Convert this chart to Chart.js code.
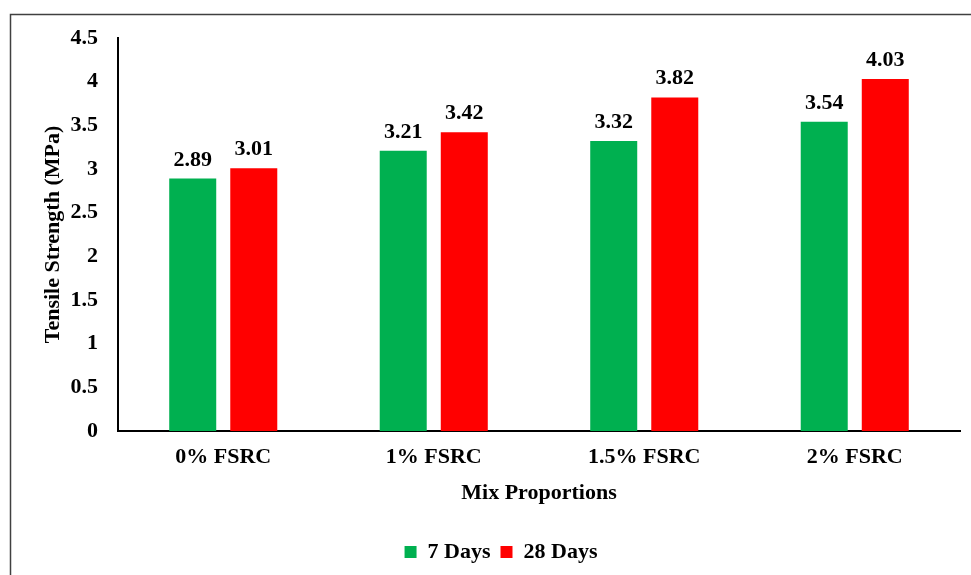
<!DOCTYPE html>
<html>
<head>
<meta charset="utf-8">
<title>Tensile Strength</title>
<script src="https://cdn.jsdelivr.net/npm/chart.js@4/dist/chart.umd.min.js"></script>
<style>
  html, body { margin: 0; padding: 0; background: #fff; overflow: hidden; }
  #wrap { position: relative; width: 971px; height: 575px; }
</style>
</head>
<body>
<div id="wrap"><canvas id="c" width="971" height="575"></canvas></div>
<script>
// Mix proportions and split tensile strength results (MPa)
const categories = ['0% FSRC', '1% FSRC', '1.5% FSRC', '2% FSRC'];
const days7 = [2.89, 3.21, 3.32, 3.54];
const days28 = [3.01, 3.42, 3.82, 4.03];
const seriesNames = ['7 Days', '28 Days'];
const yTicks = [0, 0.5, 1, 1.5, 2, 2.5, 3, 3.5, 4, 4.5];

const FONT = '"Liberation Serif", "Times New Roman", serif';
const FS = 22;

// frame around the figure
const framePlugin = {
  id: 'frame',
  beforeDraw(chart) {
    const ctx = chart.ctx;
    ctx.save();
    ctx.fillStyle = '#fff';
    ctx.fillRect(0, 0, chart.width, chart.height);
    ctx.strokeStyle = '#404040';
    ctx.lineWidth = 1.5;
    ctx.strokeRect(10.5, 14.5, 2000, 2000);
    ctx.restore();
  }
};

// nudge the legend so it sits a little right of the canvas centre
const legendShift = {
  id: 'legendShift',
  afterLayout(chart) {
    if (chart.legend) {
      chart.legend.left += 21;
      chart.legend.right += 21;
    }
  }
};

// value labels above each bar
const valueLabels = {
  id: 'valueLabels',
  afterDatasetsDraw(chart) {
    const ctx = chart.ctx;
    ctx.save();
    ctx.font = 'bold ' + FS + 'px ' + FONT;
    ctx.fillStyle = '#000';
    ctx.textAlign = 'center';
    ctx.textBaseline = 'alphabetic';
    chart.data.datasets.forEach((ds, i) => {
      chart.getDatasetMeta(i).data.forEach((el, j) => {
        ctx.fillText(ds.data[j].toFixed(2), el.x, el.y - 13);
      });
    });
    ctx.restore();
  }
};

new Chart(document.getElementById('c'), {
  type: 'bar',
  data: {
    labels: categories,
    datasets: [
      { label: seriesNames[0], data: days7, backgroundColor: '#00B050' },
      { label: seriesNames[1], data: days28, backgroundColor: '#FF0000' }
    ]
  },
  options: {
    responsive: false,
    animation: false,
    devicePixelRatio: 1,
    categoryPercentage: 0.58,
    barPercentage: 0.77,
    layout: { padding: { top: 38, right: 11, bottom: 2, left: 0 } },
    plugins: {
      tooltip: { enabled: false },
      legend: {
        position: 'bottom',
        labels: {
          boxWidth: 12,
          boxHeight: 12,
          padding: 10,
          color: '#000',
          font: { family: FONT, size: FS, weight: 'bold' }
        }
      }
    },
    scales: {
      x: {
        grid: { display: false, drawTicks: false },
        border: { display: true, color: '#000', width: 2 },
        ticks: {
          color: '#000',
          padding: 13,
          maxRotation: 0,
          font: { family: FONT, size: FS, weight: 'bold' }
        },
        title: {
          display: true,
          text: 'Mix Proportions',
          color: '#000',
          padding: { top: 0, bottom: 24 },
          font: { family: FONT, size: FS, weight: 'bold' }
        },
        afterFit(scale) { scale.height = 100; }
      },
      y: {
        min: 0,
        max: 4.5,
        afterBuildTicks(scale) { scale.ticks = yTicks.map(v => ({ value: v })); },
        grid: { display: false, drawTicks: false },
        border: { display: true, color: '#000', width: 2 },
        ticks: {
          color: '#000',
          padding: 20,
          font: { family: FONT, size: FS, weight: 'bold' },
          callback: v => String(v)
        },
        title: {
          display: true,
          text: 'Tensile Strength (MPa)',
          color: '#000',
          padding: { top: 40, bottom: 0 },
          font: { family: FONT, size: FS, weight: 'bold' }
        },
        afterFit(scale) { scale.width = 118; }
      }
    }
  },
  plugins: [framePlugin, legendShift, valueLabels]
});
</script>
</body>
</html>
